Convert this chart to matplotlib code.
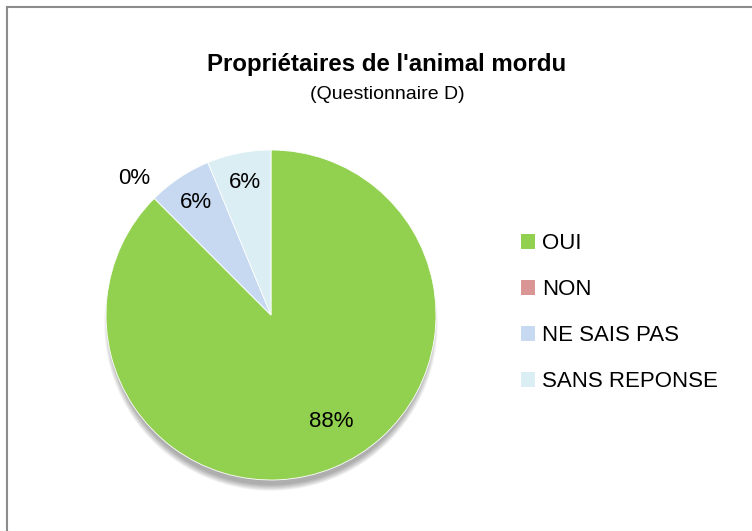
import numpy as np
import matplotlib.pyplot as plt
from matplotlib.patches import Circle
from matplotlib.lines import Line2D

plt.rcParams["font.family"] = ["Liberation Sans", "DejaVu Sans"]

# data
categories = ["OUI", "NON", "NE SAIS PAS", "SANS REPONSE"]
counts = [14, 0, 1, 1]
colors = ["#92D050", "#D99694", "#C6D9F1", "#DBEEF4"]

title = "Propriétaires de l'animal mordu"
subtitle = "(Questionnaire D)"

fig = plt.figure(figsize=(7.52, 5.31), dpi=100)
fig.patch.set_facecolor("white")

# pie axes: centre (271, 315) px, radius 165 px
W, H = 752, 531
cx, cy, r = 271, 315, 165
ax = fig.add_axes([(cx - r) / W, (H - cy - r) / H, 2 * r / W, 2 * r / H])

# soft shadow below the pie
for i in range(10):
    ax.add_patch(Circle((0, -0.055), 0.975 + i * 0.004, color="black",
                        alpha=0.035, lw=0, zorder=0, clip_on=False))

wedges, texts, autotexts = ax.pie(
    counts, colors=colors, startangle=90, counterclock=False,
    autopct="%.0f%%", pctdistance=0.82,
    wedgeprops=dict(edgecolor="white", linewidth=0.6),
    textprops=dict(fontsize=16, color="black"),
)
for w in wedges:
    w.set_clip_on(False)

# move labels roughly where Excel put them
for w, t in zip(wedges, autotexts):
    mid = np.deg2rad((w.theta1 + w.theta2) / 2)
    if w.theta2 - w.theta1 < 1:
        dist = 1.17
    elif w.theta2 - w.theta1 > 180:
        mid += np.deg2rad(7)
        dist = 0.74
    else:
        dist = 0.82
    t.set_position((dist * np.cos(mid), dist * np.sin(mid)))
    t.set_clip_on(False)

ax.set_xlim(-1, 1)
ax.set_ylim(-1, 1)
ax.set_aspect("equal")
ax.axis("off")

fig.text(387 / W, 1 - 71 / H, title, ha="center", va="baseline",
         fontsize=17.3, fontweight="bold")
fig.text(387 / W, 1 - 99 / H, subtitle, ha="center", va="baseline",
         fontsize=14)

leg = fig.legend(wedges, categories, loc="upper left",
                 bbox_to_anchor=(521 / W, 1 - 233 / H),
                 frameon=False, fontsize=16, borderpad=0, borderaxespad=0,
                 handlelength=0.65, handleheight=0.65, handletextpad=0.3,
                 labelspacing=1.13)
for h in leg.legend_handles:
    h.set_edgecolor("none")

# chart area border (top and left only visible)
fig.add_artist(Line2D([7 / W, 1], [1 - 7 / H, 1 - 7 / H], color="#8c8c8c", lw=1.5))
fig.add_artist(Line2D([7 / W, 7 / W], [0, 1 - 7 / H], color="#8c8c8c", lw=1.5))

fig.savefig("out.png", dpi=100, facecolor="white")
